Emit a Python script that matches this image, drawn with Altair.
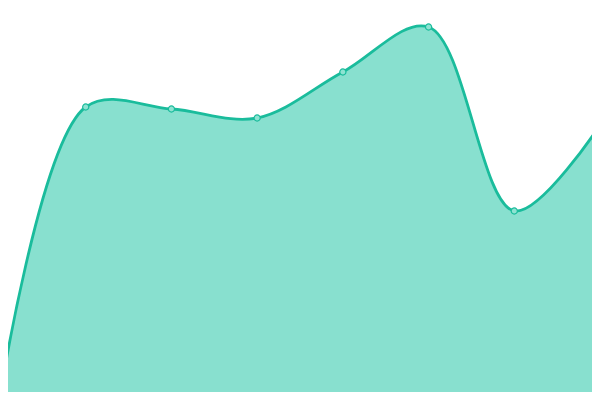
import altair as alt
import pandas as pd

idx = [0, 1, 2, 3, 4, 5, 6, 7]
values = [3, 293, 291, 282, 328, 373, 189, 275]

df = pd.DataFrame({"i": idx, "v": values})

step = 600 / 7
x = alt.X("i:Q", axis=None, scale=alt.Scale(domain=[8 / step, 592 / step], nice=False, zero=False))
y = alt.Y("v:Q", axis=None, scale=alt.Scale(domain=[8, 392], nice=False, zero=False))

area = alt.Chart(df).mark_area(
    interpolate="catmull-rom", color="#88e0cf", opacity=1,
    line={"color": "#1abc9c", "strokeWidth": 2.8},
).encode(x=x, y=y, y2=alt.datum(0))

pts = alt.Chart(df).mark_point(
    filled=True, size=38, fill="#8ee3d2", stroke="#1abc9c", strokeWidth=1.2, opacity=1
).encode(x=x, y=y)

chart = (area + pts).properties(
    width=584, height=384, padding=0, autosize=alt.AutoSizeParams(type="none")
).configure_view(stroke=None)
chart.save("out.html", embed_options={"renderer": "svg", "actions": False})
